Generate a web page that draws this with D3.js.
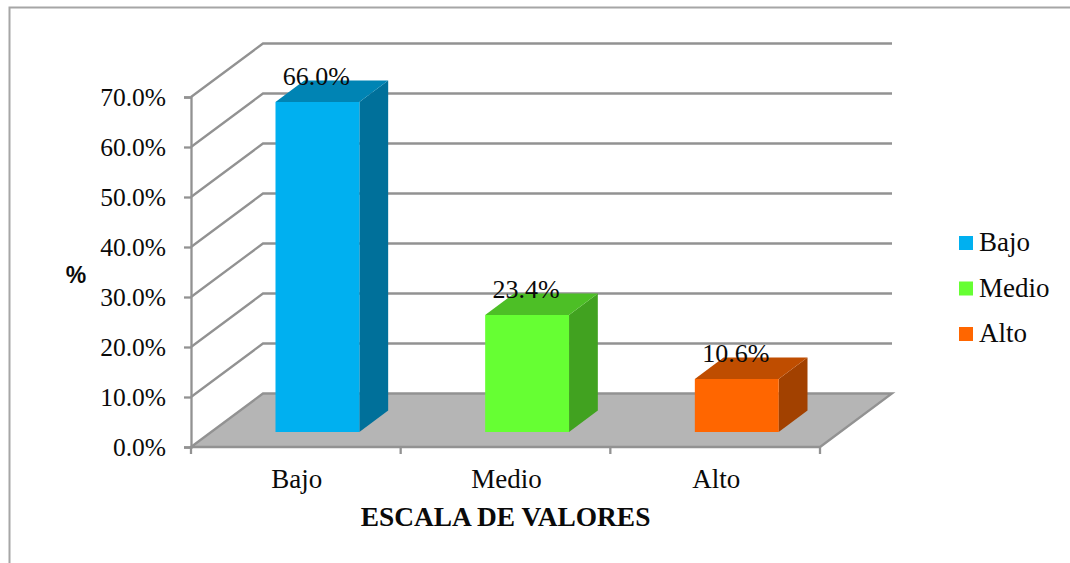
<!DOCTYPE html>
<html><head><meta charset="utf-8">
<script src="https://cdnjs.cloudflare.com/ajax/libs/d3/7.8.5/d3.min.js"></script>
<style>html,body{margin:0;padding:0;background:#fff}svg{display:block}text{font-family:"Liberation Serif",serif;fill:#0a0a0a}</style>
</head><body><svg id="c" width="1070" height="563"></svg>
<script>
const categories = ["Bajo","Medio","Alto"];
const values = [66.0,23.4,10.6];
const labels = ["66.0%","23.4%","10.6%"];
const frontColors = ["#00B0F0","#66FF33","#FF6600"];
const topColors = ["#0084B4","#4DBF26","#BF4D00"];
const sideColors = ["#00709A","#41A220","#A24100"];
const yTicks = [0,10,20,30,40,50,60,70];
const axisTitle = "ESCALA DE VALORES";
const yTitle = "%";

const svg = d3.select("#c");
const x = d3.scaleBand().domain(categories).range([191,820]);
const y = d3.scaleLinear().domain([0,70]).range([447,97]);
const DX = 72, DY = -53.5;
const px = (xv,t)=>xv+t*DX, py=(v,t)=>y(v)+t*DY;
const line = d3.line();
const gray = "#929292";
const sw = 2.3;

svg.append("rect").attr("x",9.5).attr("y",7.5).attr("width",1200).attr("height",700).attr("fill","#fff").attr("stroke","#a6a6a6").attr("stroke-width",2);

// floor
svg.append("path").attr("d",line([[x.range()[0],y(0)],[px(x.range()[0],1),py(0,1)],[px(x.range()[1],1),py(0,1)],[x.range()[1],y(0)]])+"Z")
  .attr("fill","#B5B5B5").attr("stroke",gray).attr("stroke-width",sw);

// gridlines
yTicks.slice(1).forEach(t=>{
  svg.append("path").attr("fill","none").attr("stroke",gray).attr("stroke-width",sw)
    .attr("d",line([[x.range()[0],y(t)],[px(x.range()[0],1),py(t,1)],[px(x.range()[1],1),py(t,1)]]));
});

// axes
const ya = d3.axisLeft(y).tickValues(yTicks).tickSize(7).tickFormat(d=>d.toFixed(1)+"%").tickPadding(18);
const gy = svg.append("g").attr("transform","translate(191,0)").call(ya);
gy.selectAll("path,line").attr("stroke",gray).attr("stroke-width",sw);
gy.selectAll("text").attr("font-size",25.5).attr("x",-25).attr("dy","0.33em").attr("text-anchor","end").style("font-family","Liberation Serif");

const xa = d3.axisBottom(x).tickSize(0).tickPadding(22);
const gx = svg.append("g").attr("transform",`translate(0,${y(0)})`).call(xa);
gx.select("path").remove();
gx.selectAll("text").attr("font-size",27).attr("dy","0.71em").attr("dx",1).attr("y",22).style("font-family","Liberation Serif");
const edges = x.domain().map(c=>x(c)).concat(x.range()[1]);
svg.append("g").selectAll("line").data(edges).join("line")
  .attr("x1",d=>d).attr("x2",d=>d).attr("y1",y(0)).attr("y2",y(0)+7).attr("stroke",gray).attr("stroke-width",sw);

// bars
const barW = x.bandwidth()*0.4, t0=0.3, t1=0.7;
categories.forEach((c,i)=>{
  const v=values[i];
  const l = x(c)+(x.bandwidth()-barW)/2+t0*DX, r=l+barW;
  const d1=(t1-t0)*DX, d2=(t1-t0)*DY;
  const b = 432, tp = b-(y(0)-y(v));
  svg.append("path").attr("fill",sideColors[i]).attr("d",line([[r,b],[r+d1,b+d2],[r+d1,tp+d2],[r,tp]])+"Z");
  svg.append("path").attr("fill",topColors[i]).attr("d",line([[l,tp],[l+d1,tp+d2],[r+d1,tp+d2],[r,tp]])+"Z");
  svg.append("rect").attr("x",l).attr("y",tp).attr("width",barW).attr("height",b-tp).attr("fill",frontColors[i]);
  svg.append("text").attr("x",l+barW/2-1).attr("y",tp-17).attr("text-anchor","middle").attr("font-size",26).text(labels[i]);
});

// titles
svg.append("text").attr("x",505.5).attr("y",526).attr("text-anchor","middle").attr("font-size",27.4).attr("font-weight","bold").text(axisTitle);
svg.append("text").attr("x",76).attr("y",283).attr("text-anchor","middle").attr("font-size",23).attr("font-weight","bold").style("font-family","Liberation Sans").text(yTitle);

// legend
const ly = d3.scalePoint().domain(categories).range([243,334]);
categories.forEach((c,i)=>{
  svg.append("rect").attr("x",959).attr("y",ly(c)-7).attr("width",14).attr("height",14).attr("fill",frontColors[i]);
  svg.append("text").attr("x",979).attr("y",ly(c)+8).attr("font-size",27).text(c);
});
</script></body></html>
